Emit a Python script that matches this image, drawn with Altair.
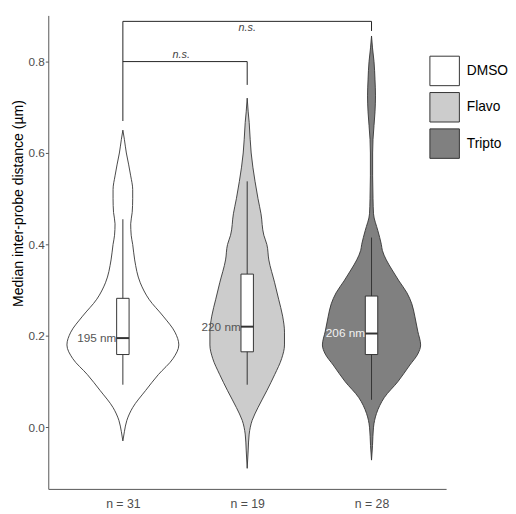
import altair as alt
import pandas as pd

# ---------------- data ----------------
groups = ["DMSO", "Flavo", "Tripto"]
group_pos = [1, 2, 3]
counts = [31, 19, 28]
fills = ["#ffffff", "#cccccc", "#808080"]

# violin outlines: y value (µm) and half-width (in units of group spacing)
dmso_y = [0.650, 0.630, 0.600, 0.574, 0.550, 0.520, 0.500, 0.470, 0.445, 0.420, 0.400, 0.366,
          0.316, 0.280, 0.243, 0.208, 0.180, 0.150, 0.115, 0.080, 0.043, 0.015, -0.010, -0.030]
dmso_w = [0.000, 0.012, 0.028, 0.047, 0.063, 0.079, 0.079, 0.075, 0.063, 0.067, 0.079, 0.095,
          0.140, 0.210, 0.324, 0.419, 0.450, 0.403, 0.285, 0.182, 0.079, 0.032, 0.012, 0.000]

flavo_y = [0.720, 0.690, 0.667, 0.630, 0.600, 0.538, 0.500, 0.467, 0.420, 0.400, 0.366, 0.316,
           0.280, 0.243, 0.208, 0.180, 0.150, 0.115, 0.080, 0.043, 0.015, -0.015, -0.050, -0.090]
flavo_w = [0.000, 0.008, 0.016, 0.024, 0.032, 0.063, 0.087, 0.111, 0.134, 0.158, 0.174, 0.221,
           0.253, 0.285, 0.300, 0.300, 0.277, 0.221, 0.158, 0.087, 0.040, 0.016, 0.008, 0.000]

tripto_y = [0.856, 0.830, 0.800, 0.760, 0.725, 0.690, 0.660, 0.630, 0.600, 0.550, 0.500, 0.467,
            0.430, 0.400, 0.387, 0.366, 0.344, 0.320, 0.294, 0.270, 0.243, 0.210, 0.180, 0.160,
            0.136, 0.100, 0.065, 0.030, 0.000, -0.040, -0.072]
tripto_w = [0.000, 0.008, 0.020, 0.028, 0.032, 0.028, 0.020, 0.012, 0.009, 0.009, 0.012, 0.016,
            0.051, 0.079, 0.087, 0.119, 0.166, 0.221, 0.285, 0.324, 0.348, 0.372, 0.395, 0.372,
            0.308, 0.213, 0.103, 0.040, 0.016, 0.008, 0.000]

# box plot statistics
q1 = [0.159, 0.165, 0.159]
median = [0.195, 0.220, 0.205]
q3 = [0.282, 0.335, 0.287]
whisk_lo = [0.093, 0.093, 0.060]
whisk_hi = [0.455, 0.538, 0.415]
median_labels = ["195 nm", "220 nm", "206 nm"]
median_label_colors = ["#555555", "#555555", "#f2f2f2"]

# significance brackets (x from, x to, y from, y to)
br_x = [1, 3, 3, 1, 1, 2]
br_x2 = [3, 3, 3, 1, 2, 2]
br_y = [0.888, 0.888, 0.867, 0.888, 0.800, 0.800]
br_y2 = [0.888, 0.888, 0.888, 0.670, 0.800, 0.749]
sig_text = ["n.s.", "n.s."]
sig_x = [2.0, 1.47]
sig_y = [0.873, 0.815]

# ---------------- tables ----------------
rows = []
for g, p, ys, ws in zip(groups, group_pos, [dmso_y, flavo_y, tripto_y], [dmso_w, flavo_w, tripto_w]):
    for yv, wv in zip(ys, ws):
        rows.append({"group": g, "v": yv, "lo": p - wv, "hi": p + wv})
violin_df = pd.DataFrame(rows)

BOX_HALF = 0.05
box_df = pd.DataFrame({
    "group": groups, "pos": group_pos, "q1": q1, "med": median, "q3": q3,
    "wlo": whisk_lo, "whi": whisk_hi, "label": median_labels, "lcol": median_label_colors,
})
box_df["left"] = box_df["pos"] - BOX_HALF
box_df["right"] = box_df["pos"] + BOX_HALF
box_df["lab_x"] = box_df["pos"] - BOX_HALF - 0.002

br_df = pd.DataFrame({"x": br_x, "x2": br_x2, "y": br_y, "y2": br_y2})
sig_df = pd.DataFrame({"t": sig_text, "x": sig_x, "y": sig_y})

FONT = "Liberation Sans"
xscale = alt.Scale(domain=[0.4, 3.6], nice=False, zero=False)
yscale = alt.Scale(domain=[-0.135, 0.901], nice=False, zero=False)

label_expr = " : ".join(
    [f"datum.value == {p} ? 'n = {c}'" for p, c in zip(group_pos[:-1], counts[:-1])]
) + f" : 'n = {counts[-1]}'"

x_axis = alt.Axis(values=group_pos, labelExpr=label_expr, ticks=False, grid=False,
                  domainColor="#555555", domainWidth=1, labelColor="#4d4d4d",
                  labelFontSize=12.5, labelPadding=9, labelFont=FONT, title=None)
y_axis = alt.Axis(values=[0.0, 0.2, 0.4, 0.6, 0.8], format=".1f", grid=False,
                  domainColor="#555555", domainWidth=1, tickColor="#555555", tickSize=3,
                  labelColor="#4d4d4d", labelFontSize=12, labelPadding=1, labelFont=FONT,
                  title="Median inter-probe distance (µm)", titleFont=FONT, titleFontSize=14.3,
                  titleFontWeight="normal", titleColor="#000000",
                  titleX=-30, titleY=191, titleAngle=270, titleAlign="center",
                  titleBaseline="middle")


def X(field):
    return alt.X(field, scale=xscale, axis=x_axis, stack=None)


def Y(field):
    return alt.Y(field, scale=yscale, axis=y_axis, stack=None)


violins = alt.Chart(violin_df).mark_area(
    orient="horizontal", interpolate="monotone", stroke="#333333", strokeWidth=0.9,
    opacity=1, fillOpacity=1
).encode(
    y=Y("v:Q"),
    x=X("lo:Q"),
    x2="hi:Q",
    detail="group:N",
    fill=alt.Fill("group:N", scale=alt.Scale(domain=groups, range=fills),
                  legend=alt.Legend(title=None, orient="none", legendX=388, legendY=41,
                                    symbolType="square", symbolSize=900,
                                    symbolStrokeColor="#333333", symbolStrokeWidth=1,
                                    symbolOpacity=1, labelFontSize=14, labelFont=FONT,
                                    labelColor="#000000", labelOffset=7, rowPadding=2)),
)

whiskers = alt.Chart(box_df).mark_rule(color="#333333", strokeWidth=1).encode(
    x=X("pos:Q"), y=Y("wlo:Q"), y2="whi:Q",
)

boxes = alt.Chart(box_df).mark_rect(fill="#ffffff", stroke="#333333", strokeWidth=1).encode(
    x=X("left:Q"), x2="right:Q", y=Y("q1:Q"), y2="q3:Q",
)

medians = alt.Chart(box_df).mark_rule(color="#333333", strokeWidth=2).encode(
    x=X("left:Q"), x2="right:Q", y=Y("med:Q"),
)

med_text = alt.Chart(box_df).mark_text(
    align="right", baseline="middle", fontSize=12, font=FONT
).encode(
    x=X("lab_x:Q"), y=Y("med:Q"),
    text="label:N",
    color=alt.Color("lcol:N", scale=None, legend=None),
)

brackets = alt.Chart(br_df).mark_rule(color="#222222", strokeWidth=1).encode(
    x=X("x:Q"), x2="x2:Q", y=Y("y:Q"), y2="y2:Q",
)

sig = alt.Chart(sig_df).mark_text(
    fontStyle="italic", fontSize=11, font=FONT, color="#444444", baseline="middle"
).encode(
    x=X("x:Q"), y=Y("y:Q"), text="t:N",
)

chart = alt.layer(violins, whiskers, boxes, medians, med_text, brackets, sig).properties(
    width=405, height=482,
    padding={"left": 4, "top": 3, "right": 0, "bottom": 0},
    background="#ffffff",
).configure_view(stroke=None)

chart.save("out.html", embed_options={"renderer": "svg", "actions": False})
